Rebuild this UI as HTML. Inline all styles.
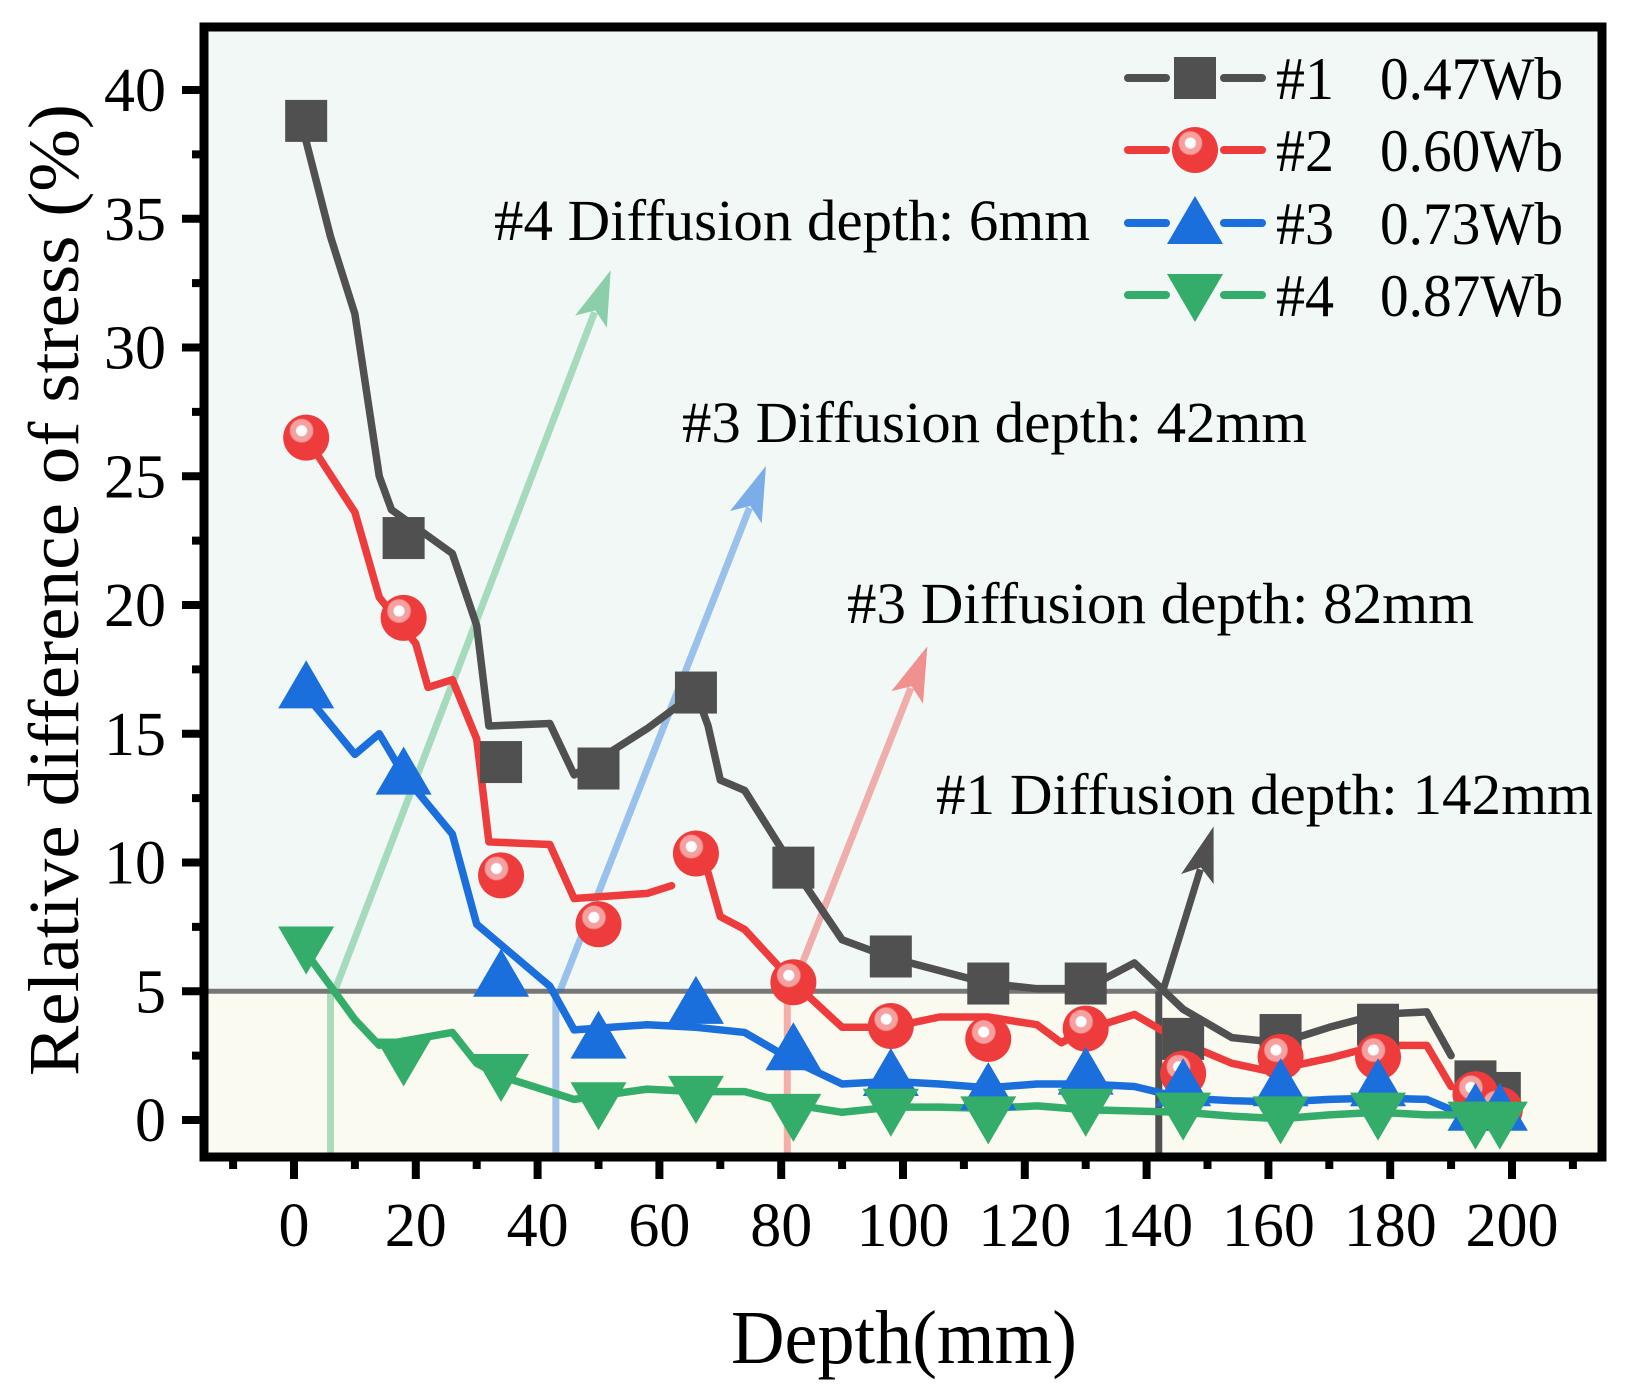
<!DOCTYPE html>
<html><head><meta charset="utf-8"><style>
html,body{margin:0;padding:0;background:#fff}
svg{display:block}
text{font-family:"Liberation Serif",serif;fill:#000}
</style></head><body>
<svg id="chart" width="1626" height="1397" viewBox="0 0 1626 1397" xmlns="http://www.w3.org/2000/svg">
<defs>
<radialGradient id="ballGrad" cx="0.4" cy="0.35" r="0.6">
<stop offset="0" stop-color="#ffffff"/><stop offset="0.18" stop-color="#ffffff"/><stop offset="0.22" stop-color="#f6a0a0"/><stop offset="0.4" stop-color="#f6a0a0"/><stop offset="0.45" stop-color="#ee3c3c"/><stop offset="1" stop-color="#ee3c3c"/>
</radialGradient>
</defs>
<g id="plot"></g>
</svg>
<script>
// ---- data ----
const markerX = [2,18,34,50,66,82,98,114,130,146,162,178,194,198];
const s1Marker = [38.8,22.6,13.9,13.65,16.6,9.8,6.35,5.3,5.3,3.15,3.3,3.7,1.5,1.05];
const s2Marker = [26.5,19.5,9.5,7.6,10.35,5.35,3.65,3.15,3.55,1.8,2.45,2.45,1.0,0.4];
const s3Marker = [16.8,13.45,5.6,3.2,4.55,2.75,1.75,1.2,1.8,1.35,1.35,1.35,0.4,0.4];
const s4Marker = [6.7,2.35,1.75,0.65,0.9,0.2,0.4,0.1,0.4,0.25,0.1,0.25,-0.1,-0.1];

const s1LineX = [2,6,10,14,16,26,30,32,42,46,50,58,66,68,70,74,82,90,98,114,122,130,138,146,154,162,170,178,186,190];
const s1LineY = [38,34.3,31.3,25,23.7,22.0,19.2,15.3,15.4,13.4,14.0,15.2,16.6,15.3,13.2,12.8,9.8,7.0,6.3,5.3,5.1,5.1,6.1,4.3,3.2,3.0,3.6,4.1,4.2,2.5];
const s2LineX = [2,10,14,20,22,26,30,32,42,46,58,62];
const s2LineY = [26.5,23.6,20.3,18.5,16.8,17.1,14.8,10.8,10.7,8.6,8.8,9.1];
const s2LineX2 = [68,70,74,82,90,98,106,114,122,126,130,138,146,154,160,170,178,186,190];
const s2LineY2 = [9.6,7.9,7.4,5.35,3.6,3.6,4.0,4.0,3.7,3.0,3.5,4.1,3.0,2.2,1.9,2.4,2.9,2.9,1.3];
const s3LineX = [2,10,14,18,26,30,42,46,58,66,74,82,90,98,106,114,122,130,138,146,154,162,170,178,186,190,194,198];
const s3LineY = [16.5,14.2,15.0,13.4,11.1,7.6,5.2,3.5,3.7,3.6,3.4,2.3,1.4,1.5,1.4,1.25,1.4,1.4,1.3,0.85,0.75,0.7,0.8,0.85,0.8,0.4,0.4,0.4];
const s4LineX = [2,10,14,26,30,34,46,58,66,74,82,90,98,106,114,122,130,138,146,154,162,170,178,186,190,194,198];
const s4LineY = [6.5,3.9,2.9,3.4,2.2,1.7,0.8,1.2,1.1,1.1,0.6,0.3,0.5,0.5,0.45,0.55,0.4,0.35,0.3,0.15,0.05,0.2,0.3,0.2,0.2,0.15,0.1];

const xTicks = [0,20,40,60,80,100,120,140,160,180,200];
const yTicks = [0,5,10,15,20,25,30,35,40];
const threshold = 5;
const annoDepth = [6,43,81,142];
const annoEndX = [52,77.5,104,151];
const annoEndY = [33,25.4,18.4,11.4];
const annoLabels = ["#4 Diffusion depth: 6mm","#3 Diffusion depth: 42mm","#3 Diffusion depth: 82mm","#1 Diffusion depth: 142mm"];
const legendNames = ["#1","#2","#3","#4"];
const legendValues = ["0.47Wb","0.60Wb","0.73Wb","0.87Wb"];

// ---- geometry ----
const L=204, R=1602, T=27, B=1157;
const X = v => 294 + v*6.09;
const Y = v => 1120 - v*25.75;
const colors = ["#505050","#ee3c3c","#1a6fdc","#35ad6a"];
const NS="http://www.w3.org/2000/svg";
const g=document.getElementById('plot');
function el(tag, attrs, parent){const e=document.createElementNS(NS,tag);for(const k in attrs)e.setAttribute(k,attrs[k]);(parent||g).appendChild(e);return e;}

// backgrounds
let e=el('rect',{x:L,y:T,width:R-L,height:Y(threshold)-T,fill:'#f1f8f6'});


e=el('rect',{x:L,y:Y(threshold),width:R-L,height:B-Y(threshold),fill:'#fbfaf0'});


e=el('line',{x1:L,x2:R,y1:Y(threshold),y2:Y(threshold),stroke:'#777',"stroke-width":5});



// annotations
const annoColors=["rgba(53,173,106,0.4)","rgba(26,111,220,0.4)","rgba(238,60,60,0.4)","#505050"];
const annoFill=["rgba(53,173,106,0.55)","rgba(26,111,220,0.55)","rgba(238,60,60,0.55)","#505050"];
const labelPos=[[494,240],[682,442],[847,623],[936,814]];
const labelLen=[596,625,627,657];
for(let i=0;i<4;i++){
  const ag=el('g',{});
  
  
  el('line',{x1:X(annoDepth[i]),x2:X(annoDepth[i]),y1:Y(threshold),y2:B,stroke:annoColors[i],"stroke-width":7},ag);
  const x1=X(annoDepth[i])+4,y1=Y(threshold),x2=X(annoEndX[i]),y2=Y(annoEndY[i]);
  const dx=x2-x1,dy=y2-y1,len=Math.hypot(dx,dy),ux=dx/len,uy=dy/len;
  const hx=x2-ux*55,hy=y2-uy*55;
  el('line',{x1:x1,y1:y1,x2:hx+ux*10,y2:hy+uy*10,stroke:annoColors[i],"stroke-width":7},ag);
  el('polygon',{points:`${x2},${y2} ${hx-uy*17},${hy+ux*17} ${hx+ux*12},${hy+uy*12} ${hx+uy*17},${hy-ux*17}`,fill:annoFill[i]},ag);
  const t=el('text',{x:labelPos[i][0],y:labelPos[i][1],"font-size":58,textLength:labelLen[i],lengthAdjust:'spacingAndGlyphs'},ag);
  t.textContent=annoLabels[i];
}

// series
function line(xs,ys,c,name){const p=el('polyline',{points:xs.map((x,i)=>X(x)+','+Y(ys[i])).join(' '),fill:'none',stroke:c,"stroke-width":7.5,"stroke-linejoin":'round',"stroke-linecap":'round'});}
function marker(type,cx,cy,parent){
  if(type===0) return el('rect',{x:cx-21,y:cy-21,width:42,height:42,fill:colors[0]},parent);
  if(type===1) return el('circle',{cx:cx,cy:cy,r:23,fill:'url(#ballGrad)'},parent);
  if(type===2) return el('polygon',{points:`${cx},${cy-27} ${cx+28},${cy+21} ${cx-28},${cy+21}`,fill:colors[2]},parent);
  return el('polygon',{points:`${cx},${cy+27} ${cx+28},${cy-21} ${cx-28},${cy-21}`,fill:colors[3]},parent);
}
line(s1LineX,s1LineY,colors[0],'series-1-line');
line(s2LineX,s2LineY,colors[1],'series-2-line-a');
line(s2LineX2,s2LineY2,colors[1],'series-2-line-b');
line(s3LineX,s3LineY,colors[2],'series-3-line');
line(s4LineX,s4LineY,colors[3],'series-4-line');
const markers=[s1Marker,s2Marker,s3Marker,s4Marker];
for(let s=0;s<4;s++){
  markerX.forEach((x,i)=>{
    const m=marker(s,X(x),Y(markers[s][i]));
    
    
  });
}

// frame
e=el('rect',{x:L,y:T,width:R-L,height:B-T,fill:'none',stroke:'#000',"stroke-width":9});



// x ticks
for(let v=-10;v<=210;v+=10){
  const major=v%20===0;
  const t=el('line',{x1:X(v),x2:X(v),y1:B,y2:B+(major?22:12),stroke:'#000',"stroke-width":8});
  
  
}
xTicks.forEach(v=>{const t=el('text',{x:X(v),y:1246,"font-size":62,"text-anchor":'middle'});t.textContent=v;});
// y ticks
for(let v=-2.5;v<=40;v+=2.5){
  if(Y(v)>B||Y(v)<T)continue;
  const major=v%5===0;
  const t=el('line',{x1:L-(major?22:12),x2:L,y1:Y(v),y2:Y(v),stroke:'#000',"stroke-width":8});
  
  
}
yTicks.forEach(v=>{const t=el('text',{x:166,y:Y(v)+21,"font-size":62,"text-anchor":'end'});t.textContent=v;});

// titles
e=el('text',{x:904,y:1363,"font-size":76,"text-anchor":'middle',textLength:346,lengthAdjust:'spacingAndGlyphs'});e.textContent='Depth(mm)';


e=el('text',{x:0,y:0,"font-size":72,"text-anchor":'middle',textLength:972,lengthAdjust:'spacingAndGlyphs',transform:'translate(78,590) rotate(-90)'});e.textContent='Relative difference of stress (%)';



// legend
const rowY=[78,150,223,295];
for(let i=0;i<4;i++){
  const lg=el('g',{});
  
  
  el('line',{x1:1128,x2:1166,y1:rowY[i],y2:rowY[i],stroke:colors[i],"stroke-width":8,"stroke-linecap":'round'},lg);
  el('line',{x1:1224,x2:1262,y1:rowY[i],y2:rowY[i],stroke:colors[i],"stroke-width":8,"stroke-linecap":'round'},lg);
  marker(i,1195,rowY[i],lg);
  let t=el('text',{x:1276,y:rowY[i]+21,"font-size":60,textLength:58,lengthAdjust:'spacingAndGlyphs'},lg);t.textContent=legendNames[i];
  t=el('text',{x:1380,y:rowY[i]+21,"font-size":60,textLength:183,lengthAdjust:'spacingAndGlyphs'},lg);t.textContent=legendValues[i];
}
</script>
</body></html>
